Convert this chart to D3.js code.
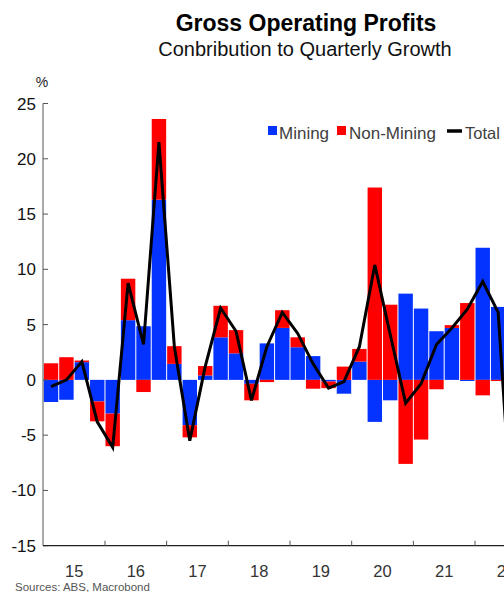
<!DOCTYPE html>
<html>
<head>
<meta charset="utf-8">
<script src="https://cdn.jsdelivr.net/npm/d3@7"></script>
<style>
  body { margin: 0; background: #fff; }
  text { font-family: "Liberation Sans", Arial, sans-serif; }
</style>
</head>
<body>
<svg id="chart" width="504" height="592"></svg>
<script>
// quarterly data, 2015Q1 .. 2022Q3
const quarters = [
  '2015Q1','2015Q2','2015Q3','2015Q4',
  '2016Q1','2016Q2','2016Q3','2016Q4',
  '2017Q1','2017Q2','2017Q3','2017Q4',
  '2018Q1','2018Q2','2018Q3','2018Q4',
  '2019Q1','2019Q2','2019Q3','2019Q4',
  '2020Q1','2020Q2','2020Q3','2020Q4',
  '2021Q1','2021Q2','2021Q3','2021Q4',
  '2022Q1','2022Q2','2022Q3'
];
const mining = [
  -2.0, -1.8, 1.6, -1.95,
  -3.05, 5.4, 4.85, 16.3,
  1.45, -4.1, 0.4, 3.85,
  2.4, -0.35, 3.3, 4.7,
  2.95, 2.15, -0.15, -1.25,
  1.65, -3.8, -1.85, 7.8,
  6.45, 4.4, 4.7, -0.1,
  11.95, 6.6, -9.0
];
const nonMining = [
  1.5, 2.05, 0.15, -1.8,
  -2.95, 3.75, -1.1, 7.3,
  1.6, -1.1, 0.85, 2.85,
  2.1, -1.5, -0.2, 1.6,
  0.9, -0.8, -0.6, 1.2,
  1.15, 17.4, 6.8, -7.6,
  -5.4, -0.85, 0.25, 6.95,
  -1.4, -0.1, -5.0
];
const total = [
  -0.6, 0.0, 1.65, -3.8,
  -6.1, 8.75, 3.2, 21.5,
  3.0, -5.5, 1.2, 6.5,
  4.4, -1.85, 3.0, 6.1,
  4.2, 1.45, -0.75, -0.15,
  3.0, 10.4, 4.1, -2.1,
  -0.35, 3.2, 4.7, 6.4,
  8.9, 6.1, -15.0
];
const yTicks = [25, 20, 15, 10, 5, 0, -5, -10, -15];
const years = [15, 16, 17, 18, 19, 20, 21, 22];

const svg = d3.select('#chart');

const x = d3.scaleLinear().domain([0, 32]).range([43.3, 536.7]);
const y = d3.scaleLinear().domain([-15, 25]).range([545.7, 103.5]);
const qw = x(1) - x(0);

const rows = quarters.map((q, i) => ({ i: i, mining: mining[i], nonMining: nonMining[i] }));
const series = d3.stack()
  .keys(['mining', 'nonMining'])
  .offset(d3.stackOffsetDiverging)(rows);
const colors = { mining: '#0433ff', nonMining: '#ff0000' };

// bars
svg.append('g').selectAll('g')
  .data(series)
  .join('g')
  .attr('fill', d => colors[d.key])
  .selectAll('rect')
  .data(d => d)
  .join('rect')
  .attr('x', d => x(d.data.i) + 0.5)
  .attr('width', qw - 1)
  .attr('y', d => y(Math.max(d[0], d[1])))
  .attr('height', d => Math.abs(y(d[0]) - y(d[1])));

// total line
const line = d3.line()
  .x((d, i) => x(i + 0.5))
  .y(d => y(d));
svg.append('path')
  .datum(total)
  .attr('fill', 'none')
  .attr('stroke', '#000')
  .attr('stroke-width', 3)
  .attr('d', line);

// y axis
svg.append('line')
  .attr('x1', 43).attr('x2', 43)
  .attr('y1', y(25)).attr('y2', y(-15))
  .attr('stroke', '#555').attr('stroke-width', 1);
svg.append('g').selectAll('line')
  .data(yTicks)
  .join('line')
  .attr('x1', 43).attr('x2', 48)
  .attr('y1', d => y(d)).attr('y2', d => y(d))
  .attr('stroke', '#555');
svg.append('g').selectAll('text')
  .data(yTicks)
  .join('text')
  .attr('x', 36)
  .attr('y', d => y(d) + 6)
  .attr('text-anchor', 'end')
  .attr('font-size', 17)
  .attr('fill', '#111')
  .text(d => d);
svg.append('text')
  .attr('x', 42).attr('y', 86.5)
  .attr('text-anchor', 'middle')
  .attr('font-size', 14)
  .attr('fill', '#222')
  .text('%');

// x axis
svg.append('line')
  .attr('x1', 43).attr('x2', 504)
  .attr('y1', y(-15)).attr('y2', y(-15))
  .attr('stroke', '#222').attr('stroke-width', 1.2);
svg.append('g').selectAll('line')
  .data(years.slice(1))
  .join('line')
  .attr('x1', (d, i) => x((i + 1) * 4)).attr('x2', (d, i) => x((i + 1) * 4))
  .attr('y1', y(-15)).attr('y2', y(-15) - 5)
  .attr('stroke', '#555');
svg.append('g').selectAll('text')
  .data(years)
  .join('text')
  .attr('x', (d, i) => x(i * 4 + 2))
  .attr('y', 577)
  .attr('text-anchor', 'middle')
  .attr('font-size', 16.5)
  .attr('fill', '#333')
  .text(d => d);

// titles
svg.append('text')
  .attr('x', 306).attr('y', 30.5)
  .attr('text-anchor', 'middle')
  .attr('font-size', 23)
  .attr('font-weight', 'bold')
  .attr('fill', '#000')
  .text('Gross Operating Profits');
svg.append('text')
  .attr('x', 305).attr('y', 56)
  .attr('text-anchor', 'middle')
  .attr('font-size', 20)
  .attr('fill', '#111')
  .text('Conbribution to Quarterly Growth');

// legend
const legend = svg.append('g').attr('font-size', 17).attr('fill', '#404040');
legend.append('rect').attr('x', 268).attr('y', 126).attr('width', 9).attr('height', 9).attr('fill', colors.mining);
legend.append('text').attr('x', 279).attr('y', 138.5).text('Mining');
legend.append('rect').attr('x', 337).attr('y', 126).attr('width', 9).attr('height', 9).attr('fill', colors.nonMining);
legend.append('text').attr('x', 349).attr('y', 138.5).text('Non-Mining');
legend.append('line').attr('x1', 447).attr('x2', 462).attr('y1', 131).attr('y2', 131)
  .attr('stroke', '#000').attr('stroke-width', 3.5);
legend.append('text').attr('x', 465).attr('y', 138.5).attr('font-size', 16.5).text('Total');

// source
svg.append('text')
  .attr('x', 15).attr('y', 590.5)
  .attr('font-size', 11.5)
  .attr('fill', '#555')
  .text('Sources: ABS, Macrobond');
</script>
</body>
</html>
